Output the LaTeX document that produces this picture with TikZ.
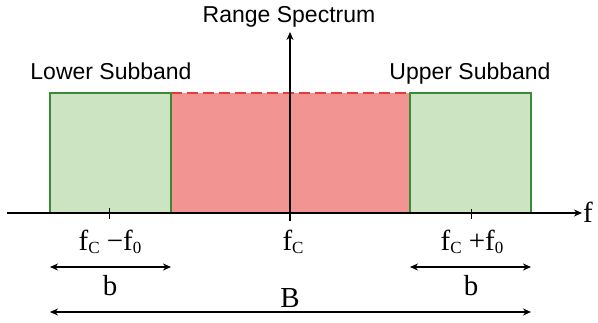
\documentclass[tikz,border=0pt]{standalone}
\usepackage{fontspec}
\setmainfont{Liberation Serif}
\setsansfont{Liberation Sans}
\usetikzlibrary{arrows.meta}
\definecolor{gfill}{HTML}{CDE4C3}
\definecolor{gline}{HTML}{3A8A3A}
\definecolor{rfill}{HTML}{F19492}
\definecolor{rdash}{HTML}{E03C3C}
\tikzset{
  sublabel/.style={font=\sffamily\fontsize{23}{26}\selectfont, inner sep=0pt, anchor=base},
  mathlabel/.style={font=\fontsize{29}{32}\selectfont, inner sep=0pt},
  axis/.style={line width=1.4pt, -{Stealth[length=8pt,width=7pt]}},
  dim/.style={line width=1.2pt, {Stealth[length=8pt,width=7pt]}-{Stealth[length=8pt,width=7pt]}},
  greenbox/.style={fill=gfill, draw=gline, line width=1.2pt},
}
\newcommand{\sbs}[1]{\raisebox{-0.3ex}{\fontsize{17}{18}\selectfont #1}}
\begin{document}
\begin{tikzpicture}[x=1pt,y=-1pt]
\useasboundingbox (0,0) rectangle (598,322);
% bands
\fill[rfill] (171,93) rectangle (410,213);
\draw[rdash, line width=1.5pt, dash pattern=on 11pt off 5pt] (171,93) -- (410,93);
\draw[greenbox] (50,213) rectangle (171,93);
\draw[greenbox] (410,213) rectangle (531,93);
% axes
\coordinate (xs) at (7,213);
\coordinate (xe) at (582,213);
\coordinate (ys) at (290,221);
\coordinate (ye) at (290,32);
\draw[axis] (xs) -- (xe);
\draw[axis] (ys) -- (ye);
\node[mathlabel, anchor=base west] (flab) at (583,222) {f};
\node[sublabel] (rs) at (289,22) {Range Spectrum};
\node[sublabel] (ls) at (111,79) {Lower Subband};
\node[sublabel] (us) at (470,79) {Upper Subband};
% ticks
\coordinate (t1a) at (109,208); \coordinate (t1b) at (109,219);
\coordinate (t2a) at (471,209); \coordinate (t2b) at (471,219);
\draw[line width=1pt] (t1a) -- (t1b);
\draw[line width=1pt] (t2a) -- (t2b);
% labels
\node[mathlabel, anchor=base] (fm) at (110,250) {f\sbs{C} −f\sbs{0}};
\node[mathlabel, anchor=base] (fc) at (293,250) {f\sbs{C}};
\node[mathlabel, anchor=base] (fp) at (472,250) {f\sbs{C} +f\sbs{0}};
% dimension arrows
\coordinate (b1l) at (50,267); \coordinate (b1r) at (171,267);
\coordinate (b2l) at (410,267); \coordinate (b2r) at (531,267);
\coordinate (Bl) at (50,312); \coordinate (Br) at (531,312);
\draw[dim] (b1l) -- (b1r);
\draw[dim] (b2l) -- (b2r);
\draw[dim] (Bl) -- (Br);
\node[mathlabel, anchor=base] (bl) at (110,295) {b};
\node[mathlabel, anchor=base] (br) at (471,295) {b};
\node[mathlabel, anchor=base] (BB) at (290,307) {B};
\end{tikzpicture}
\end{document}
